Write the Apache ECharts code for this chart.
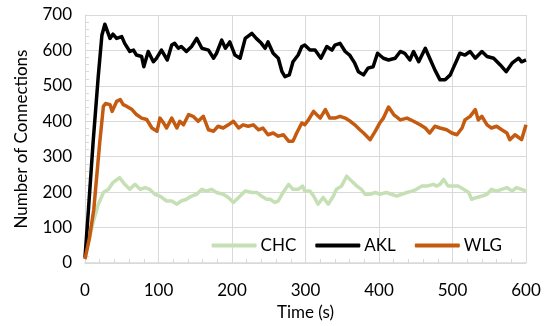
<!DOCTYPE html>
<html>
<head>
<meta charset="utf-8">
<script src="https://cdn.jsdelivr.net/npm/echarts@6/dist/echarts.min.js"></script>
<style>
  html, body { margin: 0; padding: 0; background: #ffffff; }
  #chart { width: 550px; height: 326px; }
</style>
</head>
<body>
<div id="chart"></div>
<script>
// Readings: [time (s), number of connections]
const chcData = [
  [0, 20], [5, 60], [11, 114], [18, 165], [25, 199], [32, 208], [38, 227], [47, 241], [54, 222],
  [61, 208], [68, 222], [75, 208], [82, 213], [88, 208], [95, 194], [102, 189], [111, 175],
  [118, 175], [125, 166], [131, 175], [138, 180], [145, 189], [152, 194], [159, 208], [165, 203],
  [172, 208], [179, 199], [188, 194], [195, 185], [202, 171], [209, 185], [218, 203], [227, 199],
  [234, 199], [240, 189], [247, 180], [252, 180], [258, 171], [263, 175], [268, 194], [277, 222],
  [283, 208], [290, 208], [296, 217], [299, 203], [306, 203], [311, 189], [317, 166], [324, 185],
  [331, 166], [338, 189], [342, 208], [349, 217], [356, 245], [363, 231], [370, 217], [376, 208],
  [381, 194], [388, 194], [395, 199], [401, 194], [410, 199], [417, 194], [424, 189], [431, 194],
  [438, 199], [445, 203], [451, 208], [458, 217], [465, 217], [474, 222], [478, 217], [483, 222],
  [488, 236], [494, 217], [501, 217], [508, 217], [515, 208], [522, 199], [526, 180], [533, 185],
  [540, 189], [547, 194], [553, 208], [560, 203], [567, 208], [574, 213], [581, 203], [587, 213],
  [594, 208], [600, 203]
];

const aklData = [
  [0, 15], [5, 160], [11, 340], [18, 526], [23, 643], [27, 674], [34, 634], [38, 646], [43, 634],
  [50, 639], [54, 620], [61, 597], [66, 601], [70, 587], [77, 583], [80, 554], [86, 597], [93, 568],
  [97, 577], [104, 601], [112, 573], [118, 615], [122, 620], [127, 606], [131, 611], [138, 597],
  [145, 611], [152, 634], [159, 606], [168, 601], [175, 578], [179, 592], [186, 629], [191, 606],
  [197, 624], [204, 587], [211, 578], [218, 634], [227, 648], [233, 634], [240, 620], [245, 606],
  [249, 624], [256, 592], [263, 578], [268, 540], [272, 526], [278, 531], [283, 568], [290, 587],
  [295, 611], [299, 615], [306, 601], [313, 601], [321, 578], [329, 611], [336, 601], [340, 615],
  [347, 620], [354, 597], [360, 587], [367, 564], [372, 540], [379, 531], [385, 550], [392, 554],
  [398, 592], [406, 578], [413, 573], [422, 578], [429, 597], [435, 592], [442, 573], [447, 597],
  [454, 568], [463, 606], [469, 578], [476, 545], [483, 517], [490, 517], [497, 531], [501, 550],
  [506, 573], [510, 592], [517, 587], [524, 597], [531, 578], [540, 597], [547, 583], [556, 578],
  [565, 559], [573, 540], [581, 564], [590, 578], [594, 568], [600, 573]
];

const wlgData = [
  [0, 11], [6, 70], [12, 152], [20, 339], [25, 442], [28, 450], [34, 447], [37, 428], [43, 456],
  [48, 461], [52, 447], [57, 442], [64, 433], [70, 419], [77, 409], [84, 405], [91, 381], [98, 372],
  [102, 409], [107, 395], [111, 381], [118, 409], [125, 381], [129, 400], [134, 390], [141, 419],
  [147, 414], [154, 400], [161, 414], [168, 376], [175, 372], [181, 386], [188, 381], [195, 390],
  [202, 400], [209, 381], [215, 390], [222, 386], [229, 390], [236, 376], [242, 381], [249, 362],
  [256, 367], [263, 358], [270, 362], [277, 344], [283, 344], [288, 367], [295, 395], [299, 390],
  [304, 404], [311, 428], [315, 419], [320, 409], [327, 433], [333, 409], [340, 409], [347, 414],
  [354, 409], [361, 400], [367, 390], [374, 376], [379, 367], [388, 348], [395, 372], [401, 395],
  [406, 409], [413, 440], [420, 419], [429, 404], [438, 409], [447, 400], [456, 390], [463, 381],
  [469, 367], [476, 386], [483, 381], [492, 376], [499, 367], [506, 362], [513, 381], [517, 404],
  [524, 414], [531, 433], [535, 404], [540, 414], [547, 390], [553, 381], [560, 386], [567, 376],
  [574, 367], [578, 348], [585, 362], [594, 348], [600, 390]
];

const seriesNames = ["CHC", "AKL", "WLG"];
const seriesColors = ["#c5e0b4", "#000000", "#c55a11"];

const FONT = "Lato";
const GRID = "#d9d9d9";

const chart = echarts.init(document.getElementById("chart"), null, { renderer: "canvas" });

function lineSeries(i, data) {
  return {
    name: seriesNames[i],
    type: "line",
    data: data,
    showSymbol: false,
    symbol: "none",
    smooth: false,
    lineStyle: { color: seriesColors[i], width: 3.5, join: "round" },
    itemStyle: { color: seriesColors[i] },
    animation: false,
  };
}

chart.setOption({
  animation: false,
  grid: { left: 85, right: 24, top: 15, bottom: 62 },
  legend: {
    right: 43,
    top: 232,
    itemWidth: 45,
    itemHeight: 4,
    itemGap: 19,
    icon: "roundRect",
    textStyle: { fontFamily: FONT, fontSize: 17, color: "#000000", padding: [0, 0, 0, -1] },
    data: seriesNames,
  },
  xAxis: {
    type: "value",
    min: 0,
    max: 600,
    interval: 100,
    name: "Time (s)",
    nameLocation: "middle",
    nameGap: 41,
    nameTextStyle: { fontFamily: FONT, fontSize: 17, color: "#000000" },
    axisLine: { show: true, lineStyle: { color: GRID, width: 1.5 } },
    axisTick: { show: false, inside: true },
    minorTick: { show: true, splitNumber: 5, length: 4, lineStyle: { color: GRID } },
    axisLabel: { fontFamily: FONT, fontSize: 17, color: "#000000", margin: 19 },
    splitLine: { show: true, lineStyle: { color: GRID, width: 1 } },
  },
  yAxis: {
    type: "value",
    min: 0,
    max: 700,
    interval: 100,
    name: "Number of Connections",
    nameLocation: "middle",
    nameGap: 55,
    nameRotate: 90,
    nameTextStyle: { fontFamily: FONT, fontSize: 17, color: "#000000" },
    axisLine: { show: true, lineStyle: { color: GRID, width: 1 } },
    axisTick: { show: false, inside: true },
    minorTick: { show: true, splitNumber: 5, length: 4, lineStyle: { color: GRID } },
    axisLabel: { fontFamily: FONT, fontSize: 17, color: "#000000", margin: 13 },
    splitLine: { show: true, lineStyle: { color: GRID, width: 1 } },
  },
  series: [lineSeries(0, chcData), lineSeries(1, aklData), lineSeries(2, wlgData)],
});
</script>
</body>
</html>
